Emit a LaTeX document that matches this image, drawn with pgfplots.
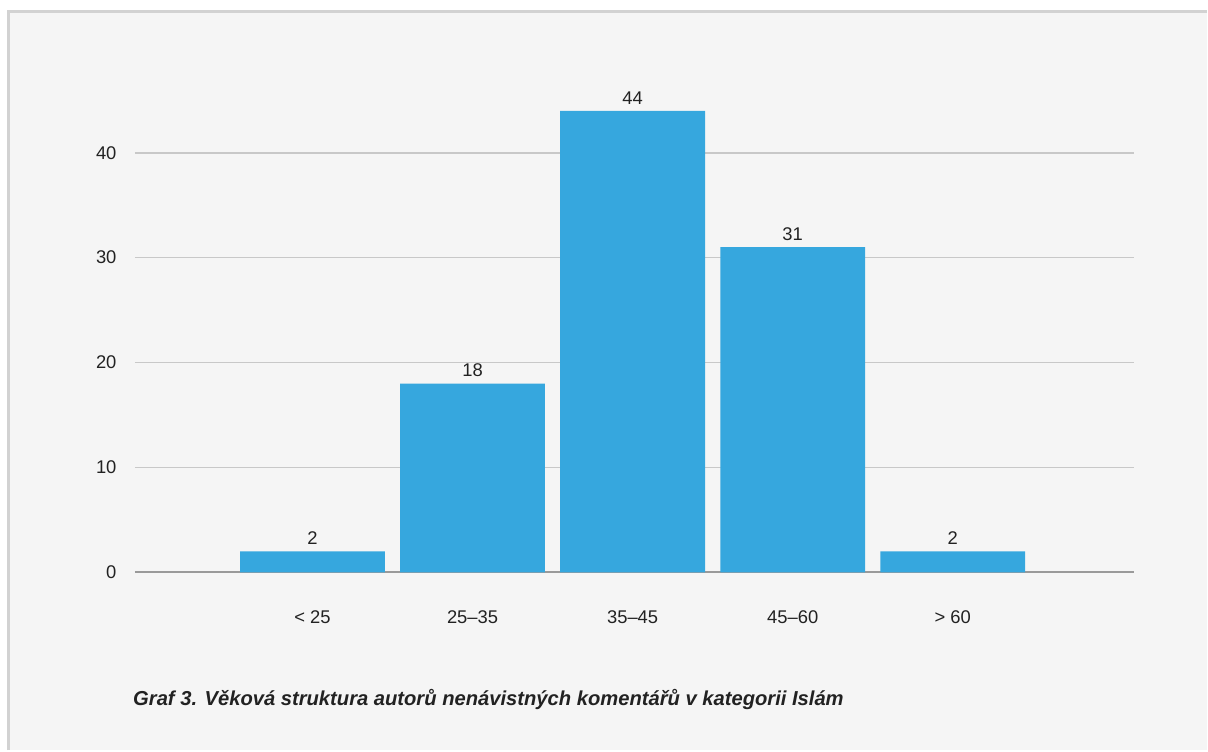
\documentclass[border=0pt]{standalone}
\usepackage{fontspec}
\setmainfont{Liberation Sans}
\usepackage{pgfplots}
\pgfplotsset{compat=1.18}
\definecolor{barblue}{HTML}{36A7DE}
\definecolor{bgc}{HTML}{F5F5F5}
\definecolor{framec}{HTML}{D2D2D2}
\definecolor{gridc}{HTML}{C8C8C8}
\definecolor{zeroc}{HTML}{9A9A9A}
\definecolor{txt}{HTML}{222222}
\begin{document}
\begin{tikzpicture}[x=0.5pt,y=0.5pt]
\fill[white] (0,0) rectangle (1208,751);
\fill[bgc] (8,0) rectangle (1208,740);
\draw[framec, line width=1.5pt] (8.5,0) -- (8.5,739.5) -- (1208,739.5);
\begin{axis}[
  at={(67.5pt,89pt)}, anchor=south west,
  scale only axis, width=500pt, height=246.75pt,
  xmin=-1.11, xmax=5.13, ymin=0, ymax=47,
  axis lines=left, axis line style={draw=none},
  major tick length=0pt,
  ytick={10,20,30,40},
  extra y ticks={0},
  extra y tick style={grid style={zeroc, line width=1pt}},
  ymajorgrids, grid style={gridc, line width=0.75pt},
  xtick={0,1,2,3,4},
  xticklabels={< 25, 25–35, 35–45, 45–60, > 60},
  /pgf/number format/assume math mode=true,
  tick label style={font=\fontsize{9.2}{11}\selectfont, text=txt},
  xticklabel style={anchor=center, inner sep=0pt, yshift=-22.5pt},
  yticklabel style={anchor=east, inner sep=0pt, xshift=-9pt},
  ybar, bar width=72.5pt,
  nodes near coords,
  nodes near coords style={font=\fontsize{9.2}{11}\selectfont, text=txt, inner sep=0pt, anchor=south, yshift=3pt},
  clip=false,
]
\addplot[fill=barblue, draw=none] coordinates {(0,2) (1,18) (2,44) (3,31) (4,2)};
\end{axis}
\node[anchor=base west, inner sep=0pt, text=txt, font=\fontsize{10.1}{12}\selectfont\bfseries\itshape] at (133,45) {Graf 3. Věková struktura autorů nenávistných komentářů v kategorii Islám};
\path[use as bounding box] (0,0) rectangle (1208,751);
\end{tikzpicture}
\end{document}
